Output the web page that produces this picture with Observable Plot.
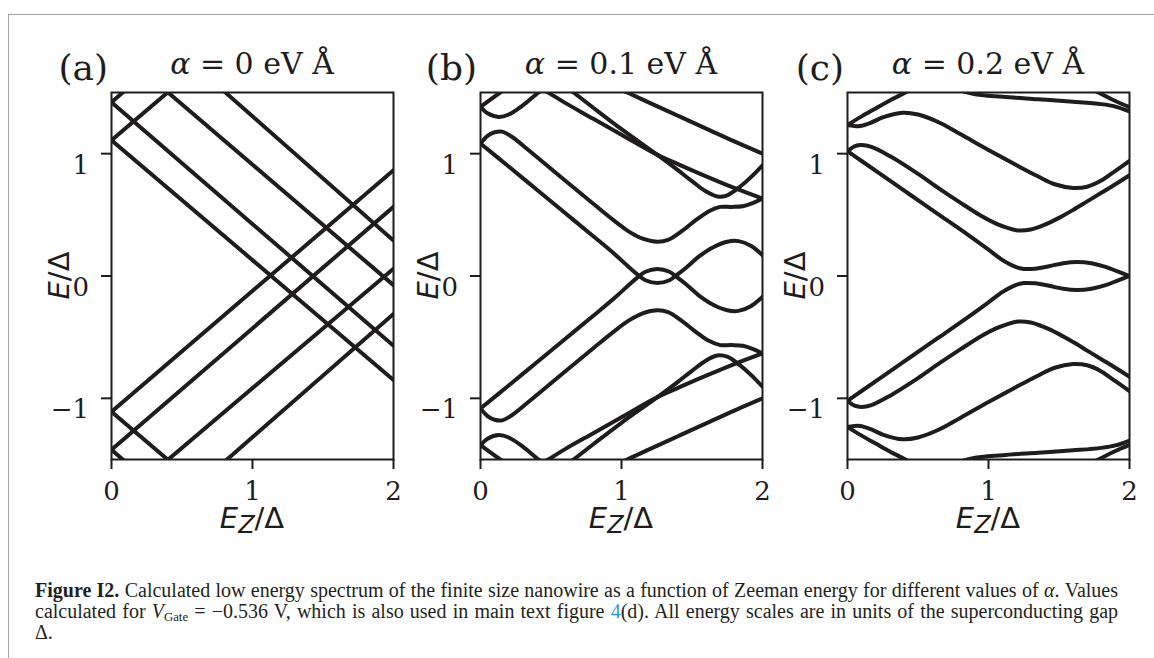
<!DOCTYPE html>
<html>
<head>
<meta charset="utf-8">
<script src="https://cdn.jsdelivr.net/npm/d3@7"></script>
<script src="https://cdn.jsdelivr.net/npm/@observablehq/plot@0.6"></script>
<style>
html,body{margin:0;padding:0;background:#fff;}
body{width:1154px;height:658px;position:relative;overflow:hidden;}
#border{position:absolute;left:8px;top:14px;width:1160px;height:660px;border-top:1px solid #a3a3a3;border-left:1px solid #a3a3a3;}
.panel{position:absolute;top:0;}
.panel svg{overflow:visible;}
g[aria-label$="axis tick"]{stroke-width:2px;}
#caption{position:absolute;left:35px;top:580px;width:1083px;font-family:"Liberation Serif",serif;font-size:20px;line-height:21px;color:#231f20;}
#caption .j{text-align:justify;text-align-last:justify;white-space:nowrap;}
#caption sub{font-size:0.64em;line-height:0;vertical-align:-0.25em;}
#caption .lnk{color:#2b9ad3;}
</style>
</head>
<body>
<div id="border"></div>
<div id="charts"></div>
<div id="caption">
  <div class="j"><b>Figure I2.</b> Calculated low energy spectrum of the finite size nanowire as a function of Zeeman energy for different values of <i>α</i>. Values</div>
  <div class="j">calculated for <i>V</i><sub>Gate</sub> = −0.536 V, which is also used in main text figure <span class="lnk">4</span>(d). All energy scales are in units of the superconducting gap</div>
  <div>Δ.</div>
</div>
<script>
// ---- data (E_Z/Δ, E/Δ) ----
const xTicks = [0, 1, 2];
const yTicks = [-1, 0, 1];
const panelTags = ["(a)", "(b)", "(c)"];
const alphaValues = ["0", "0.1", "0.2"];

// panel (a): alpha = 0, straight Zeeman-split lines
const curvesA = [
  [[0,1.11],[2,-0.85]],
  [[0,1.42],[2,-0.57]],
  [[0.30,1.60],[2,-0.075]],
  [[0.70,1.61],[2,0.29]],
  [[0,-1.11],[2,0.865]],
  [[0,-1.42],[2,0.565]],
  [[0.30,-1.60],[2,0.06]],
  [[0.70,-1.62],[2,-0.31]],
  [[0,1.11],[0.5,1.60]],
  [[0,1.42],[0.2,1.62]],
  [[0,-1.11],[0.5,-1.60]],
  [[0,-1.42],[0.2,-1.62]]
];

// panel (b): alpha = 0.1 eV Å
const curvesB = [
  [[0,1.083],[0.2,0.895],[0.4,0.705],[0.6,0.515],[0.8,0.325],[0.95,0.18],[1.05,0.075],[1.11,0.015],[1.17,-0.035],[1.255,-0.058],[1.34,-0.035],[1.4,0.015],[1.46,0.07],[1.55,0.16],[1.65,0.235],[1.75,0.28],[1.83,0.285],[1.92,0.245],[2,0.17]],
  [[0,1.083],[0.05,1.145],[0.1,1.175],[0.154,1.18],[0.22,1.14],[0.35,1.02],[0.6,0.78],[0.8,0.59],[0.95,0.45],[1.05,0.365],[1.15,0.305],[1.255,0.28],[1.33,0.295],[1.42,0.36],[1.52,0.45],[1.62,0.53],[1.7,0.565],[1.78,0.565],[1.86,0.57],[1.93,0.595],[2,0.633]],
  [[0.58,1.57],[0.66,1.5],[0.8,1.375],[1,1.2],[1.255,0.99],[1.4,0.865],[1.5,0.775],[1.6,0.69],[1.68,0.65],[1.75,0.66],[1.83,0.72],[1.92,0.81],[2,0.905]],
  [[0.4,1.55],[0.48,1.5],[0.6,1.415],[0.8,1.285],[1,1.155],[1.255,0.99],[1.4,0.915],[1.6,0.815],[1.8,0.72],[2,0.633]],
  [[0.9,1.57],[1.04,1.5],[1.2,1.415],[1.4,1.31],[1.6,1.205],[1.8,1.1],[2,1.0]],
  [[0,1.383],[0.05,1.33],[0.13,1.3],[0.2,1.32],[0.3,1.395],[0.4,1.49],[0.48,1.56]],
  [[0,1.383],[0.14,1.5],[0.22,1.56]],
  [[0,-1.083],[0.2,-0.895],[0.4,-0.705],[0.6,-0.515],[0.8,-0.325],[0.95,-0.18],[1.05,-0.075],[1.11,-0.015],[1.17,0.035],[1.255,0.058],[1.34,0.035],[1.4,-0.015],[1.46,-0.07],[1.55,-0.16],[1.65,-0.235],[1.75,-0.28],[1.83,-0.285],[1.92,-0.245],[2,-0.17]],
  [[0,-1.083],[0.05,-1.145],[0.1,-1.175],[0.154,-1.18],[0.22,-1.14],[0.35,-1.02],[0.6,-0.78],[0.8,-0.59],[0.95,-0.45],[1.05,-0.365],[1.15,-0.305],[1.255,-0.28],[1.33,-0.295],[1.42,-0.36],[1.52,-0.45],[1.62,-0.53],[1.7,-0.565],[1.78,-0.565],[1.86,-0.57],[1.93,-0.595],[2,-0.633]],
  [[0.58,-1.57],[0.66,-1.5],[0.8,-1.375],[1,-1.2],[1.255,-0.99],[1.4,-0.865],[1.5,-0.775],[1.6,-0.69],[1.68,-0.65],[1.75,-0.66],[1.83,-0.72],[1.92,-0.81],[2,-0.905]],
  [[0.4,-1.55],[0.48,-1.5],[0.6,-1.415],[0.8,-1.285],[1,-1.155],[1.255,-0.99],[1.4,-0.915],[1.6,-0.815],[1.8,-0.72],[2,-0.633]],
  [[0.9,-1.57],[1.04,-1.5],[1.2,-1.415],[1.4,-1.31],[1.6,-1.205],[1.8,-1.1],[2,-1.0]],
  [[0,-1.383],[0.05,-1.33],[0.13,-1.3],[0.2,-1.32],[0.3,-1.395],[0.4,-1.49],[0.48,-1.56]],
  [[0,-1.383],[0.14,-1.5],[0.22,-1.56]]
];

// panel (c): alpha = 0.2 eV Å
const curvesC = [
  [[0,1.02],[0.1,0.94],[0.25,0.82],[0.45,0.66],[0.65,0.5],[0.85,0.34],[1,0.215],[1.1,0.13],[1.18,0.08],[1.25,0.058],[1.33,0.06],[1.43,0.08],[1.53,0.105],[1.63,0.115],[1.73,0.105],[1.83,0.075],[1.92,0.035],[2,0.0]],
  [[0,1.02],[0.05,1.06],[0.1,1.07],[0.17,1.055],[0.3,0.98],[0.5,0.835],[0.65,0.715],[0.8,0.6],[0.95,0.49],[1.05,0.43],[1.13,0.395],[1.21,0.372],[1.3,0.38],[1.4,0.42],[1.5,0.475],[1.6,0.54],[1.7,0.61],[1.8,0.68],[1.9,0.75],[2,0.824]],
  [[0,1.235],[0.04,1.228],[0.09,1.226],[0.16,1.25],[0.26,1.3],[0.39,1.335],[0.5,1.32],[0.65,1.255],[0.8,1.16],[1,1.03],[1.2,0.905],[1.35,0.815],[1.47,0.75],[1.6,0.72],[1.7,0.73],[1.8,0.78],[1.9,0.86],[2,0.94]],
  [[0,1.235],[0.1,1.305],[0.2,1.37],[0.3,1.435],[0.41,1.5],[0.5,1.56]],
  [[0.6,1.65],[0.75,1.54],[0.89,1.49],[1.1,1.465],[1.35,1.445],[1.6,1.425],[1.8,1.405],[1.9,1.385],[2,1.345]],
  [[1.7,1.55],[1.78,1.5],[1.9,1.43],[2,1.38]],
  [[0,-1.02],[0.1,-0.94],[0.25,-0.82],[0.45,-0.66],[0.65,-0.5],[0.85,-0.34],[1,-0.215],[1.1,-0.13],[1.18,-0.08],[1.25,-0.058],[1.33,-0.06],[1.43,-0.08],[1.53,-0.105],[1.63,-0.115],[1.73,-0.105],[1.83,-0.075],[1.92,-0.035],[2,0.0]],
  [[0,-1.02],[0.05,-1.06],[0.1,-1.07],[0.17,-1.055],[0.3,-0.98],[0.5,-0.835],[0.65,-0.715],[0.8,-0.6],[0.95,-0.49],[1.05,-0.43],[1.13,-0.395],[1.21,-0.372],[1.3,-0.38],[1.4,-0.42],[1.5,-0.475],[1.6,-0.54],[1.7,-0.61],[1.8,-0.68],[1.9,-0.75],[2,-0.824]],
  [[0,-1.235],[0.04,-1.228],[0.09,-1.226],[0.16,-1.25],[0.26,-1.3],[0.39,-1.335],[0.5,-1.32],[0.65,-1.255],[0.8,-1.16],[1,-1.03],[1.2,-0.905],[1.35,-0.815],[1.47,-0.75],[1.6,-0.72],[1.7,-0.73],[1.8,-0.78],[1.9,-0.86],[2,-0.94]],
  [[0,-1.235],[0.1,-1.305],[0.2,-1.37],[0.3,-1.435],[0.41,-1.5],[0.5,-1.56]],
  [[0.6,-1.65],[0.75,-1.54],[0.89,-1.49],[1.1,-1.465],[1.35,-1.445],[1.6,-1.425],[1.8,-1.405],[1.9,-1.385],[2,-1.345]],
  [[1.7,-1.55],[1.78,-1.5],[1.9,-1.43],[2,-1.38]]
];

const panelCurves = [curvesA, curvesB, curvesC];
const curveKinds = ["linear", "catmull-rom", "catmull-rom"];

// ---- layout ----
const ML = 75, MR = 12, MT = 92, MB = 81, PW = 282, H = 540;
const PH = H - MT - MB;
const plotLefts = [111, 480, 846.5];
const ink = "#1e1c1d";
const fmt = d => d < 0 ? "\u2212" + Math.abs(d) : String(d);

const host = document.getElementById("charts");

panelTags.forEach((tag, i) => {
  const rows = panelCurves[i].flatMap((c, j) => c.map(([ez, e]) => ({id: j, ez, e})));
  const svg = Plot.plot({
    width: ML + PW + MR,
    height: H,
    marginLeft: ML, marginRight: MR, marginTop: MT, marginBottom: MB,
    style: {background: "transparent", overflow: "visible", fontFamily: "'DejaVu Serif'", fontSize: "26px", color: ink},
    x: {domain: [0, 2], ticks: xTicks, tickFormat: fmt, tickSize: 10, tickPadding: 12.5, label: null},
    y: {domain: [-1.5, 1.5], ticks: yTicks, tickFormat: fmt, tickSize: 10, tickPadding: 12.5, label: null},
    marks: [
      Plot.line(rows, {x: "ez", y: "e", z: "id", stroke: ink, strokeWidth: 4, curve: curveKinds[i], clip: true}),
      Plot.frame({stroke: ink, strokeWidth: 2})
    ]
  });

  svg.querySelectorAll('g[aria-label="y-axis tick label"] text').forEach(t => t.setAttribute("dy", "0.45em"));

  const s = d3.select(svg);
  const cx = ML + PW / 2;
  s.append("text").attr("x", ML - 3).attr("y", 80).attr("text-anchor", "end").attr("fill", ink)
    .style("font", "36px 'DejaVu Serif'").text(tag);
  const t = s.append("text").attr("x", cx).attr("y", 74).attr("text-anchor", "middle").attr("fill", ink)
    .style("font", "30px 'DejaVu Serif'");
  t.append("tspan").style("font-style", "italic").text("α");
  t.append("tspan").text(" = " + alphaValues[i] + " eV Å");

  const xl = s.append("text").attr("x", cx).attr("y", MT + PH + 69).attr("text-anchor", "middle").attr("fill", ink)
    .style("font", "29px 'DejaVu Sans'");
  xl.append("tspan").style("font-style", "italic").text("E");
  xl.append("tspan").attr("dy", 5).style("font-size", "24px").style("font-style", "italic").text("Z");
  xl.append("tspan").attr("dy", -5).text("/Δ");

  const yl = s.append("text").attr("transform", `translate(${ML - 42},${MT + PH / 2}) rotate(-90)`)
    .attr("text-anchor", "middle").attr("fill", ink).style("font", "29px 'DejaVu Sans'");
  yl.append("tspan").style("font-style", "italic").text("E");
  yl.append("tspan").text("/Δ");

  const div = document.createElement("div");
  div.className = "panel";
  div.style.left = (plotLefts[i] - ML) + "px";
  div.appendChild(svg);
  host.appendChild(div);
});
</script>
</body>
</html>
